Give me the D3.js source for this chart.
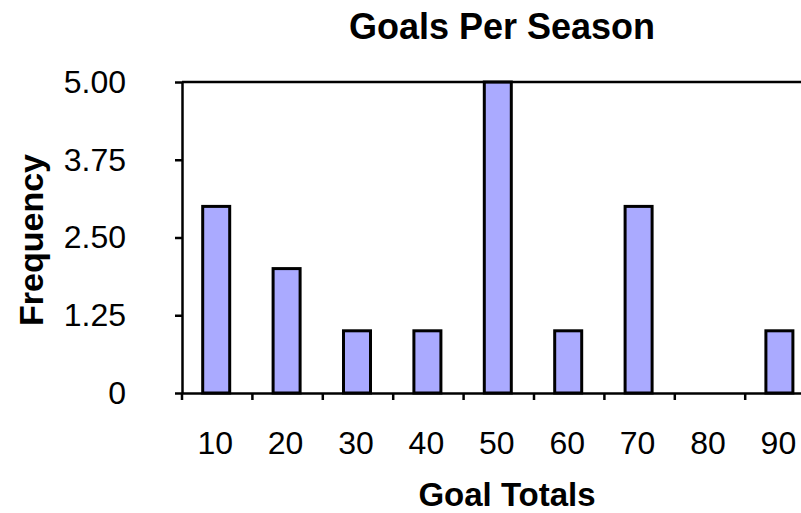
<!DOCTYPE html>
<html>
<head>
<meta charset="utf-8">
<script src="https://cdn.jsdelivr.net/npm/d3@7/dist/d3.min.js"></script>
<style>
  html, body { margin: 0; padding: 0; background: #fff; }
  svg { display: block; }
  text { font-family: "Liberation Sans", Arial, sans-serif; fill: #000; }
</style>
</head>
<body>
<svg id="chart" width="801" height="513"></svg>
<script>
// Goal totals and how many seasons landed on each
const categories = ["10", "20", "30", "40", "50", "60", "70", "80", "90"];
const frequency = [3, 2, 1, 1, 5, 1, 3, 0, 1];
const yTickValues = [0, 1.25, 2.5, 3.75, 5];
const yTickLabels = ["0", "1.25", "2.50", "3.75", "5.00"];

const svg = d3.select("#chart");

const plot = { left: 182, top: 82, bottom: 393, step: 70.4 };
plot.right = plot.left + plot.step * categories.length;

const x = d3.scaleBand().domain(categories).range([plot.left, plot.right]).padding(0);
const y = d3.scaleLinear().domain([0, 5]).range([plot.bottom, plot.top]);

// Bars
const barW = 27;
svg.append("g").selectAll("rect")
  .data(categories.map((c, i) => ({ c, v: frequency[i] })).filter(d => d.v > 0))
  .join("rect")
  .attr("x", d => x(d.c) + x.bandwidth() / 2 - 1 - barW / 2)
  .attr("y", d => y(d.v))
  .attr("width", barW)
  .attr("height", d => y(0) - y(d.v))
  .attr("fill", "#aaaaff")
  .attr("stroke", "#000")
  .attr("stroke-width", 3);

// Top border of the plot area
svg.append("line")
  .attr("x1", plot.left).attr("x2", plot.right)
  .attr("y1", y(5)).attr("y2", y(5))
  .attr("stroke", "#000").attr("stroke-width", 2.5);

// Y axis
const yAxis = svg.append("g")
  .attr("transform", `translate(${plot.left},0)`)
  .call(d3.axisLeft(y)
    .tickValues(yTickValues)
    .tickFormat((d, i) => yTickLabels[i])
    .tickSize(7)
    .tickSizeOuter(0)
    .tickPadding(49));
yAxis.select(".domain").attr("stroke", "#000").attr("stroke-width", 2.5);
yAxis.selectAll(".tick line").attr("stroke", "#000").attr("stroke-width", 2.5);
yAxis.selectAll(".tick text")
  .style("font-family", '"Liberation Sans", Arial, sans-serif')
  .style("font-size", "32px");

// X axis: labels centred under each bar, ticks on the category boundaries
const xAxis = svg.append("g")
  .attr("transform", `translate(0,${plot.bottom})`)
  .call(d3.axisBottom(x).tickSize(0).tickSizeOuter(0).tickPadding(38));
xAxis.select(".domain").attr("stroke", "#000").attr("stroke-width", 2.5);
xAxis.selectAll(".tick").attr("transform", d => `translate(${x(d) + x.bandwidth() / 2 - 2},0)`);
xAxis.selectAll(".tick text")
  .style("font-family", '"Liberation Sans", Arial, sans-serif')
  .style("font-size", "32px");

const boundaries = categories.map(c => x(c)).concat([plot.right]);
svg.append("g").selectAll("line")
  .data(boundaries)
  .join("line")
  .attr("x1", d => d).attr("x2", d => d)
  .attr("y1", plot.bottom).attr("y2", plot.bottom + 7)
  .attr("stroke", "#000").attr("stroke-width", 2.5);

// Titles
svg.append("text")
  .attr("x", 502).attr("y", 39)
  .attr("text-anchor", "middle")
  .style("font-size", "36px").style("font-weight", "bold")
  .text("Goals Per Season");

svg.append("text")
  .attr("x", 507).attr("y", 506)
  .attr("text-anchor", "middle")
  .style("font-size", "33px").style("font-weight", "bold")
  .text("Goal Totals");

svg.append("text")
  .attr("transform", "translate(43,240) rotate(-90)")
  .attr("text-anchor", "middle")
  .style("font-size", "34px").style("font-weight", "bold")
  .text("Frequency");
</script>
</body>
</html>
